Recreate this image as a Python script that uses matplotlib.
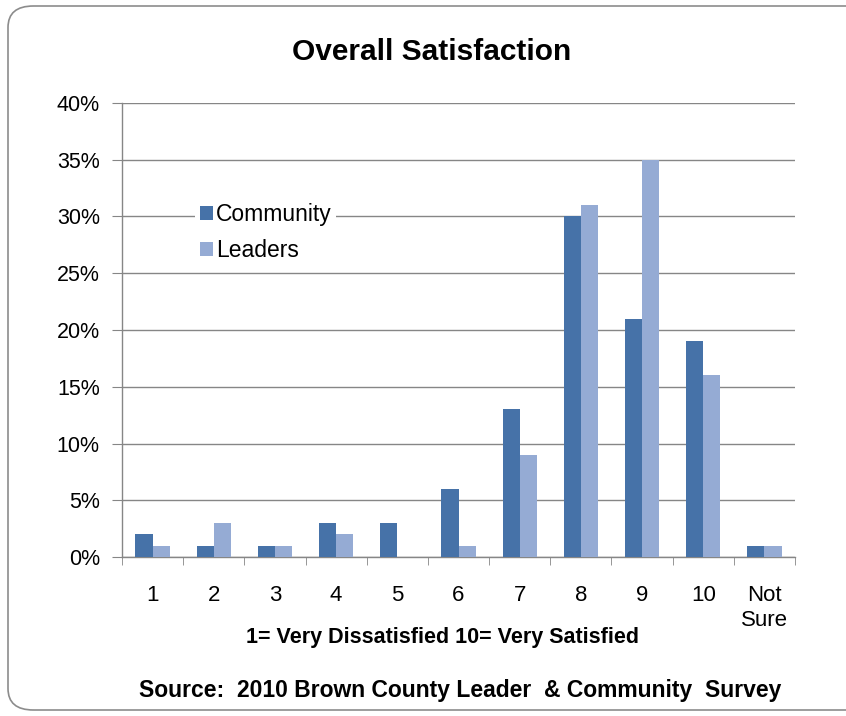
import matplotlib
matplotlib.use("Agg")
import matplotlib.pyplot as plt
from matplotlib.patches import FancyBboxPatch
from matplotlib.ticker import FuncFormatter, MultipleLocator
import numpy as np

categories = ["1", "2", "3", "4", "5", "6", "7", "8", "9", "10", "Not\nSure"]
community = [2, 1, 1, 3, 3, 6, 13, 30, 21, 19, 1]
leaders = [1, 3, 1, 2, 0, 1, 9, 31, 35, 16, 1]

c_comm = "#4672A8"
c_lead = "#95ABD4"
grid_c = "#868686"
narrow = ["Liberation Sans Narrow", "Liberation Sans", "DejaVu Sans"]
arial = ["Liberation Sans", "DejaVu Sans"]

fig = plt.figure(figsize=(8.46, 7.16), dpi=100)
fig.patch.set_facecolor("white")

# rounded border
border = FancyBboxPatch((8/846, 6/716), 1.2, (712-6)/716 - 2/716,
                        boxstyle="round,pad=0,rounding_size=0.03",
                        transform=fig.transFigure, facecolor="none",
                        edgecolor="#8c8c8c", linewidth=1.2, zorder=-1)
fig.patches.append(border)

ax = fig.add_axes([122/846, 1 - 557/716, (795-122)/846, (557-103)/716])
ax.set_facecolor("none")
x = np.arange(len(categories))
w = 0.28
ax.bar(x - w/2, community, width=w, color=c_comm, label="Community", zorder=3)
ax.bar(x + w/2, leaders, width=w, color=c_lead, label="Leaders", zorder=3)

ax.set_xlim(-0.5, len(categories) - 0.5)
ax.set_ylim(0, 40)
ax.yaxis.set_major_locator(MultipleLocator(5))
ax.yaxis.set_major_formatter(FuncFormatter(lambda v, p: f"{int(v)}%"))
ax.grid(axis="y", color=grid_c, linewidth=1.0, zorder=0)
ax.set_axisbelow(True)

for s in ["top", "right"]:
    ax.spines[s].set_visible(False)
for s in ["left", "bottom"]:
    ax.spines[s].set_color(grid_c)
    ax.spines[s].set_linewidth(1.0)

ax.set_xticks(x)
ax.set_xticklabels(categories, fontsize=16, family=narrow, linespacing=1.25)
ax.set_xticks(np.arange(-0.5, len(categories), 1), minor=True)
ax.tick_params(axis="x", which="major", length=0, pad=20)
ax.tick_params(axis="x", which="minor", length=6, color=grid_c, direction="out")
ax.tick_params(axis="y", length=7, color=grid_c, direction="out", labelsize=15.5, pad=9)
for lab in ax.get_yticklabels():
    lab.set_family(arial)
for lab in ax.get_xticklabels():
    lab.set_verticalalignment("top")

leg = ax.legend(loc="upper left", bbox_to_anchor=(0.092, 0.814), frameon=True,
                fancybox=False, edgecolor="none", facecolor="white", framealpha=1,
                prop={"family": arial, "size": 16.5}, handlelength=0.55,
                handleheight=0.55, handletextpad=0.15, labelspacing=0.55,
                borderpad=0.2)
leg.set_zorder(5)

fig.text(432/846, 1 - 52/716, "Overall Satisfaction", ha="center", va="center",
         fontsize=21.5, fontweight="bold", family=arial)
fig.text(442/846, 1 - 637/716, "1= Very Dissatisfied 10= Very Satisfied",
         ha="center", va="center", fontsize=15.5, fontweight="bold", family=narrow)
fig.text(460/846, 1 - 690/716, "Source:  2010 Brown County Leader  & Community  Survey",
         ha="center", va="center", fontsize=16.5, fontweight="bold", family=narrow)

fig.savefig("out.png", dpi=100, facecolor="white")
